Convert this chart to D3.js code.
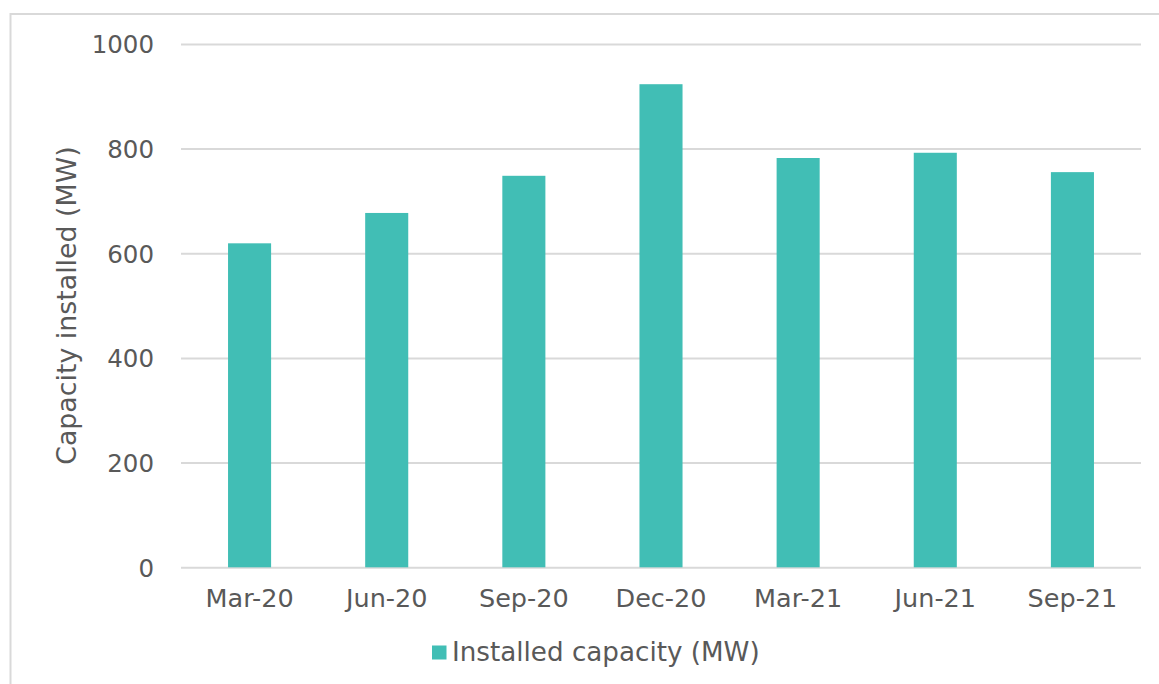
<!DOCTYPE html>
<html>
<head>
<meta charset="utf-8">
<script src="https://cdn.jsdelivr.net/npm/d3@7"></script>
<style>
  html, body { margin: 0; padding: 0; background: #fff; }
  svg { display: block; }
  text { font-family: "DejaVu Sans", Verdana, sans-serif; fill: #595959; }
</style>
</head>
<body>
<script>
const categories = ["Mar-20", "Jun-20", "Sep-20", "Dec-20", "Mar-21", "Jun-21", "Sep-21"];
const values = [619, 677, 748, 923, 782, 792, 755];
const yTicks = [0, 200, 400, 600, 800, 1000];
const seriesName = "Installed capacity (MW)";
const yTitle = "Capacity installed (MW)";

const W = 1159, H = 684;
const svg = d3.select("body").append("svg").attr("width", W).attr("height", H);

// outer frame
svg.append("rect").attr("x", 10.5).attr("y", 14).attr("width", W).attr("height", H)
  .attr("fill", "none").attr("stroke", "#D9D9D9").attr("stroke-width", 2);

const pLeft = 181, pRight = 1141, pTop = 43.9, pBottom = 567.3;
const x = d3.scaleBand().domain(categories).range([pLeft, pRight]).paddingInner(0.686).paddingOuter(0.343);
const y = d3.scaleLinear().domain([0, 1000]).range([pBottom, pTop]);

// gridlines
const yAxis = d3.axisLeft(y).tickValues(yTicks).tickSize(-(pRight - pLeft)).tickPadding(27).tickFormat(d3.format("d"));
const gy = svg.append("g").attr("transform", `translate(${pLeft},0)`).call(yAxis);
gy.select(".domain").remove();
gy.selectAll(".tick line").attr("stroke", "#D9D9D9").attr("stroke-width", 2);
gy.selectAll(".tick text").attr("font-size", 24.5).attr("fill", "#595959").attr("dy", "0.36em")
  .style("font-family", '"DejaVu Sans", Verdana, sans-serif');

// bars
svg.append("g").selectAll("rect").data(values).join("rect")
  .attr("x", (d, i) => x(categories[i]))
  .attr("y", d => y(d))
  .attr("width", x.bandwidth())
  .attr("height", d => y(0) - y(d))
  .attr("fill", "#41BEB5");

// x axis
const xAxis = d3.axisBottom(x).tickSize(0).tickPadding(22);
const gx = svg.append("g").attr("transform", `translate(0,${pBottom})`).call(xAxis);
gx.select(".domain").remove();
gx.selectAll(".tick text").attr("font-size", 25.5).attr("fill", "#595959")
  .style("font-family", '"DejaVu Sans", Verdana, sans-serif');

// y title
svg.append("text")
  .attr("transform", `translate(75.5,${(pTop + pBottom) / 2}) rotate(-90)`)
  .attr("text-anchor", "middle")
  .attr("font-size", 26.8)
  .text(yTitle);

// legend
svg.append("rect").attr("x", 432).attr("y", 645.5).attr("width", 14.5).attr("height", 14).attr("fill", "#41BEB5");
svg.append("text").attr("x", 452).attr("y", 661).attr("font-size", 26.2).text(seriesName);
</script>
</body>
</html>
